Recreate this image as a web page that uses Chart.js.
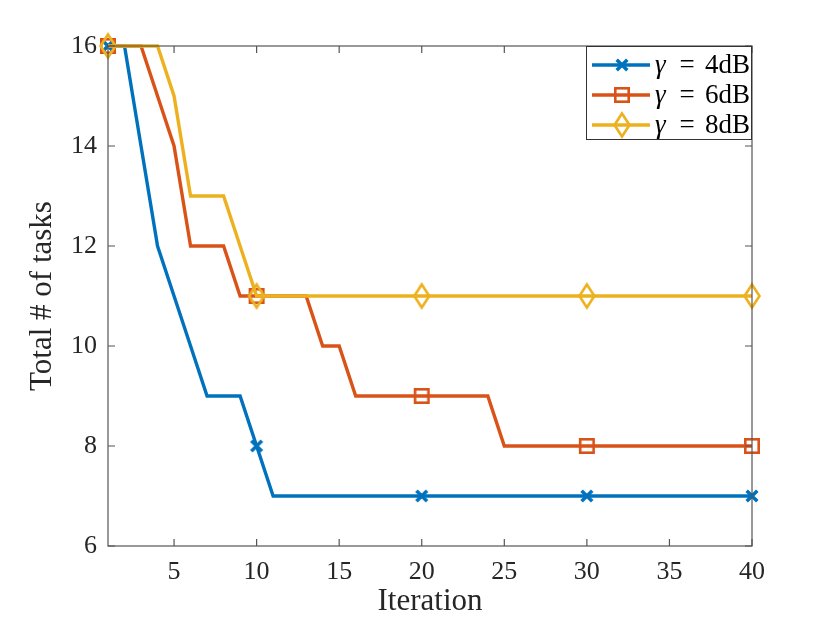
<!DOCTYPE html>
<html><head><meta charset="utf-8">
<script src="https://cdn.jsdelivr.net/npm/chart.js@4.4.1/dist/chart.umd.min.js"></script>
<style>html,body{margin:0;padding:0;background:#fff;}canvas{display:block}</style>
</head><body>
<canvas id="c" width="830" height="623"></canvas>
<script>
const iterations = [1,2,3,4,5,6,7,8,9,10,11,12,13,14,15,16,17,18,19,20,21,22,23,24,25,26,27,28,29,30,31,32,33,34,35,36,37,38,39,40];
const gamma4dB = [16,16,14,12,11,10,9,9,9,8,7,7,7,7,7,7,7,7,7,7,7,7,7,7,7,7,7,7,7,7,7,7,7,7,7,7,7,7,7,7];
const gamma6dB = [16,16,16,15,14,12,12,12,11,11,11,11,11,10,10,9,9,9,9,9,9,9,9,9,8,8,8,8,8,8,8,8,8,8,8,8,8,8,8,8];
const gamma8dB = [16,16,16,16,15,13,13,13,12,11,11,11,11,11,11,11,11,11,11,11,11,11,11,11,11,11,11,11,11,11,11,11,11,11,11,11,11,11,11,11];
const seriesLabels = ['4dB','6dB','8dB'];
const markerIterations = [1,10,20,30,40];
const xTickValues = [5,10,15,20,25,30,35,40];
const yTickValues = [6,8,10,12,14,16];

const FONT = "'Liberation Serif', 'Times New Roman', serif";
const TXT = '#262626';
const AX = '#555555';
const COLORS = ['#0072BD','#D95319','#EDB120'];

function markerCanvas(kind, color){
  const c = document.createElement('canvas');
  const g = c.getContext('2d');
  if(kind==='cross'){
    c.width=18;c.height=18;
    g.strokeStyle=color;g.lineWidth=3.5;g.lineCap='butt';
    g.beginPath();g.moveTo(3.7,3.7);g.lineTo(14.3,14.3);g.moveTo(14.3,3.7);g.lineTo(3.7,14.3);g.stroke();
  } else if(kind==='square'){
    c.width=18;c.height=18;
    g.strokeStyle=color;g.lineWidth=2.6;
    g.strokeRect(2.3,2.3,13.4,13.4);
  } else {
    c.width=22;c.height=30;
    g.strokeStyle=color;g.lineWidth=2.6;g.lineJoin='miter';
    g.beginPath();g.moveTo(11,3.5);g.lineTo(18.5,15);g.lineTo(11,26.5);g.lineTo(3.5,15);g.closePath();g.stroke();
  }
  return c;
}
const markers = [markerCanvas('cross',COLORS[0]), markerCanvas('square',COLORS[1]), markerCanvas('diamond',COLORS[2])];

function mkDataset(label, data, i, order){
  return {
    label: label, data: data,
    borderColor: COLORS[i], backgroundColor: COLORS[i],
    borderWidth: 3.4, tension: 0, fill: false, clip: false, order: order,
    pointStyle: markers[i],
    pointRadius: iterations.map(v => markerIterations.includes(v) ? 7 : 0),
    pointHoverRadius: 0, pointHitRadius: 0
  };
}

const framePlugin = {
  id: 'frame',
  afterDatasetsDraw(chart){
    const {ctx, chartArea:{left,right,top,bottom}, scales:{x,y}} = chart;
    ctx.save();
    ctx.strokeStyle = AX; ctx.lineWidth = 1.2;
    ctx.beginPath();
    const tl = 7;
    x.ticks.forEach(t => {
      const px = x.getPixelForValue(t.value);
      ctx.moveTo(px,bottom); ctx.lineTo(px,bottom-tl);
      ctx.moveTo(px,top); ctx.lineTo(px,top+tl);
    });
    y.ticks.forEach(t => {
      const py = y.getPixelForValue(t.value);
      ctx.moveTo(left,py); ctx.lineTo(left+tl,py);
      ctx.moveTo(right,py); ctx.lineTo(right-tl,py);
    });
    ctx.stroke();
    ctx.strokeRect(left,top,right-left,bottom-top);
    ctx.restore();
  },
  afterDraw(chart){
    const ctx = chart.ctx;
    const area = chart.chartArea;
    const bw = 166, bh = 94;
    const bl = area.right - bw, bt = area.top;
    ctx.save();
    ctx.fillStyle = '#fff';
    ctx.fillRect(bl,bt,bw,bh);
    ctx.strokeStyle = '#333'; ctx.lineWidth = 1;
    ctx.strokeRect(bl+0.5,bt+0.5,bw-1,bh-1);
    chart.data.datasets.forEach((ds, i) => {
      const yy = bt + 19 + i*30;
      ctx.strokeStyle = ds.borderColor; ctx.lineWidth = 3.4;
      ctx.beginPath(); ctx.moveTo(bl+6,yy); ctx.lineTo(bl+64,yy); ctx.stroke();
      const m = ds.pointStyle;
      ctx.drawImage(m, bl+36 - m.width/2, yy - m.height/2);
      ctx.fillStyle = '#000';
      ctx.textBaseline = 'middle';
      ctx.font = 'italic 27px ' + FONT;
      ctx.textAlign = 'left';
      ctx.fillText('γ', bl + 69, yy+1);
      ctx.font = '27px ' + FONT;
      ctx.textAlign = 'center';
      ctx.fillText('=', bl + 101, yy+1);
      ctx.textAlign = 'right';
      ctx.fillText(seriesLabels[i], bl + bw - 2, yy+1);
    });
    ctx.restore();
  }
};

new Chart(document.getElementById('c'), {
  type: 'line',
  data: {
    labels: iterations,
    datasets: [
      mkDataset('γ = ' + seriesLabels[0], gamma4dB, 0, 2),
      mkDataset('γ = ' + seriesLabels[1], gamma6dB, 1, 1),
      mkDataset('γ = ' + seriesLabels[2], gamma8dB, 2, 0)
    ]
  },
  options: {
    responsive: false,
    animation: false,
    layout: { padding: { top: 46, right: 78, bottom: 0, left: 0 } },
    plugins: { legend: { display: false }, tooltip: { enabled: false } },
    events: [],
    scales: {
      x: {
        type: 'linear', min: 1, max: 40,
        afterBuildTicks: s => { s.ticks = xTickValues.map(v => ({value: v})); },
        afterFit: s => { s.height = 77; },
        grid: { display: false, drawTicks: false }, border: { display: false },
        ticks: { font: { family: FONT, size: 26 }, color: TXT, padding: 11, maxRotation: 0, autoSkip: false },
        title: { display: true, text: 'Iteration', color: TXT, font: { family: FONT, size: 31 }, padding: { top: 0, bottom: 3 } }
      },
      y: {
        type: 'linear', min: 6, max: 16,
        afterBuildTicks: s => { s.ticks = yTickValues.map(v => ({value: v})); },
        afterFit: s => { s.width = 108; },
        grid: { display: false, drawTicks: false }, border: { display: false },
        ticks: { font: { family: FONT, size: 26 }, color: TXT, padding: 11 },
        title: { display: true, text: 'Total # of tasks', color: TXT, font: { family: FONT, size: 31 }, padding: { top: 24, bottom: 0 } }
      }
    }
  },
  plugins: [framePlugin]
});
</script>
</body></html>
